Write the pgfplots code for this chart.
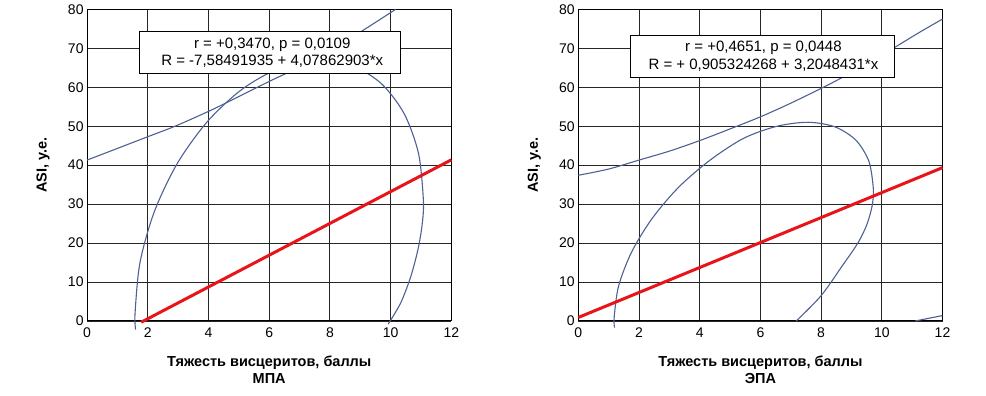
\documentclass[border=0pt]{standalone}
\usepackage{pgfplots}
\pgfplotsset{compat=1.18}
\usepackage{fontspec}
\setmainfont{Liberation Sans}
\definecolor{bandblue}{RGB}{78,96,148}
\definecolor{fitred}{RGB}{232,20,26}
\pgfplotsset{
 panel/.style={
  scale only axis, width=364.2pt, height=311.7pt,
  xmin=0,xmax=12,ymin=0,ymax=80,
  xtick={0,2,...,12}, ytick={0,10,...,80},
  grid=major, major grid style={black!85, line width=0.9pt},
  axis line style={black, line width=1pt},
  major tick length=0pt,
  clip=false,
  /pgf/number format/assume math mode=true,
  tick label style={font=\fontsize{14}{16}\selectfont},
  xticklabel style={yshift=-3pt},
  label style={font=\bfseries\fontsize{14.5}{17.5}\selectfont},
  xlabel style={at={(axis description cs:0.5,0)}, anchor=north, yshift=-31pt, align=center},
  ylabel style={at={(axis description cs:-0.121,0.5)}, anchor=center},
  ylabel={ASI, у.е.},
 },
 band/.style={bandblue, line width=1.1pt, smooth, no marks},
 fit/.style={fitred, line width=3pt, no marks},
}
\begin{document}
\begin{tikzpicture}
\useasboundingbox (0,0) rectangle (986pt,396pt);
% ---------- left panel (MPA) ----------
\begin{axis}[panel, at={(87.1pt,75pt)}, anchor=south west,
  xlabel={Тяжесть висцеритов, баллы\\МПА}]
\addplot[band] coordinates {(0,41.3) (1,44.3) (2,47.3) (2.9,50) (4,53.8) (4.66,56.3) (6.03,61.6) (7,65.2) (8,69.4) (8.99,74.1) (10.17,80)};
\addplot[band] coordinates {(1.598,-2.19) (1.58,1.97) (1.742,14.99) (2.217,28.1) (2.971,40.43) (3.955,51.11) (5.101,59.45) (6.33,64.86) (7.559,66.97) (8.705,65.65) (9.689,60.97) (10.443,53.26) (10.918,43.05) (11.08,31.03) (11.04,24.8) (10.9,18.3) (10.66,11.3) (10.33,4.6) (9.92,-0.8)};
\addplot[fit] coordinates {(1.78,-0.32) (12,41.36)};
\draw[fill=white, line width=1pt] (axis cs:1.74,63.5) rectangle (axis cs:10.31,74.2);
\node[align=center, font=\fontsize{15}{17.5}\selectfont] at (axis cs:6.1,68.85) {r = +0,3470, p = 0,0109\\R = -7,58491935 + 4,07862903*x};
\end{axis}
% ---------- right panel (EPA) ----------
\begin{axis}[panel, at={(578.3pt,75pt)}, anchor=south west,
  xlabel={Тяжесть висцеритов, баллы\\ЭПА}]
\addplot[band] coordinates {(0,37.4) (1,39.0) (2,41.3) (3,43.6) (4,46.3) (5,49.3) (6,52.4) (7,55.9) (8,59.7) (8.6,62.1) (9.5,66.0) (10.42,70.2) (11.2,73.9) (12,77.5)};
\addplot[band] coordinates {(1.196,-1.7) (1.18,0.8) (1.326,8.93) (1.752,17.63) (2.431,26.31) (3.315,34.4) (4.345,41.31) (5.45,46.9) (6.555,50.0) (7.585,51.0) (8.469,49.79) (9.148,46.39) (9.574,40.99) (9.72,34.0) (9.68,29.5) (9.5,24.6) (9.21,20) (8.71,14.3) (8.0,6.5) (7.18,0)};
\addplot[band] coordinates {(11.1,0) (12,1.4)};
\addplot[fit] coordinates {(0,0.905) (12,39.36)};
\draw[fill=white, line width=1pt] (axis cs:1.73,62.6) rectangle (axis cs:10.43,73.2);
\node[align=center, font=\fontsize{15}{17.5}\selectfont] at (axis cs:6.1,67.9) {r = +0,4651, p = 0,0448\\R = + 0,905324268 + 3,2048431*x};
\end{axis}
\end{tikzpicture}
\end{document}
